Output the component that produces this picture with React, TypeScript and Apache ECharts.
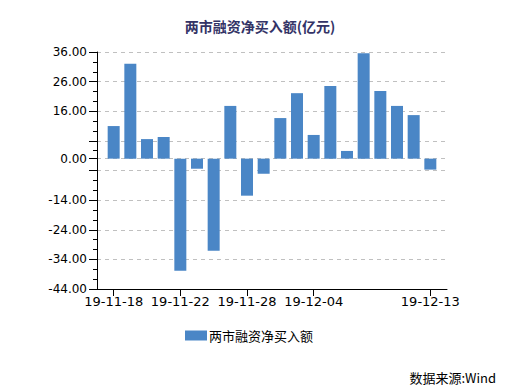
import React, { useEffect, useRef } from "react";
import * as echarts from "echarts";

const dates = [
  "19-11-18", "19-11-19", "19-11-20", "19-11-21", "19-11-22",
  "19-11-25", "19-11-26", "19-11-27", "19-11-28", "19-11-29",
  "19-12-02", "19-12-03", "19-12-04", "19-12-05", "19-12-06",
  "19-12-09", "19-12-10", "19-12-11", "19-12-12", "19-12-13",
];
const values = [
  11.0, 32.0, 6.6, 7.3, -37.8, -3.4, -31.1, 17.8, -12.5, -5.1,
  13.7, 22.1, 8.0, 24.5, 2.6, 35.6, 22.8, 17.8, 14.7, -3.7,
];
const xLabelIdx = [0, 4, 8, 12, 19];
const yLabelValues = [36, 26, 16, 0, -14, -24, -34, -44];
const yMajorTicks = [36, 26, 16, 6, 0, -4, -14, -24, -34, -44];
const yMinorTicks = [
  32.67, 29.33, 22.67, 19.33, 12.67, 9.33, 2.67,
  -7.33, -10.67, -17.33, -20.67, -27.33, -30.67, -37.33, -40.67,
];
const seriesName = "两市融资净买入额";
const titleText = "两市融资净买入额(亿元)";
const sourceText = "数据来源:Wind";

export default function App() {
  const ref = useRef<HTMLDivElement>(null);
  useEffect(() => {
    if (!ref.current) return;
    const chart = echarts.init(ref.current, null, { renderer: "svg" });
    const cjk = "'Noto Sans CJK SC', 'DejaVu Sans', sans-serif";
    chart.setOption({
      animation: false,
      backgroundColor: "#ffffff",
      title: {
        text: titleText,
        left: "center",
        top: 14,
        textStyle: { fontFamily: cjk, fontSize: 14, fontWeight: "bold", color: "#333366" },
      },
      legend: {
        data: [seriesName],
        left: 180,
        top: 324,
        itemWidth: 22,
        itemHeight: 10,
        itemGap: 2,
        icon: "rect",
        textStyle: { fontFamily: cjk, fontSize: 13, color: "#000", padding: [0, 0, 0, -3] },
      },
      graphic: [
        {
          type: "text",
          right: 24,
          top: 371,
          style: { text: sourceText, font: "13px 'Noto Sans CJK SC', 'DejaVu Sans', sans-serif", fill: "#000" },
        },
      ],
      grid: { left: 97, right: 73, top: 52, bottom: 102 },
      xAxis: {
        type: "value",
        min: -1,
        max: 20,
        axisLine: { onZero: false, lineStyle: { color: "#000", width: 1 } },
        axisTick: { customValues: xLabelIdx, length: 7, lineStyle: { color: "#000" } },
        axisLabel: {
          customValues: xLabelIdx,
          formatter: (v: number) => dates[Math.round(v)] ?? "",
          fontFamily: "'DejaVu Sans', sans-serif",
          fontSize: 13,
          color: "#000",
          margin: 6,
        },
        splitLine: { show: false },
      },
      yAxis: [
        {
          type: "value",
          min: -44,
          max: 36,
          axisLine: { show: true, onZero: false, lineStyle: { color: "#000" } },
          axisTick: { show: true, customValues: yMajorTicks, length: 8, lineStyle: { color: "#000" } },
          axisLabel: {
            customValues: yLabelValues,
            formatter: (v: number) => v.toFixed(2),
            fontFamily: "'DejaVu Sans', sans-serif",
            fontSize: 12,
            color: "#000",
            margin: 10,
          },
          splitLine: { show: true, lineStyle: { color: "#c0c0c0", type: [4, 4], width: 1 } },
        },
        {
          type: "value",
          min: -44,
          max: 36,
          position: "left",
          axisLine: { show: false, onZero: false },
          axisTick: { show: true, customValues: yMinorTicks, length: 4, lineStyle: { color: "#000" } },
          axisLabel: { show: false },
          splitLine: { show: false },
        },
      ],
      series: [
        {
          name: seriesName,
          type: "bar",
          barWidth: 12,
          itemStyle: { color: "#4a86c6" },
          data: values.map((v, i) => [i, v]),
        },
      ],
    });
    return () => chart.dispose();
  }, []);
  return <div ref={ref} style={{ width: 520, height: 391, position: "absolute", left: 0, top: 0 }} />;
}
